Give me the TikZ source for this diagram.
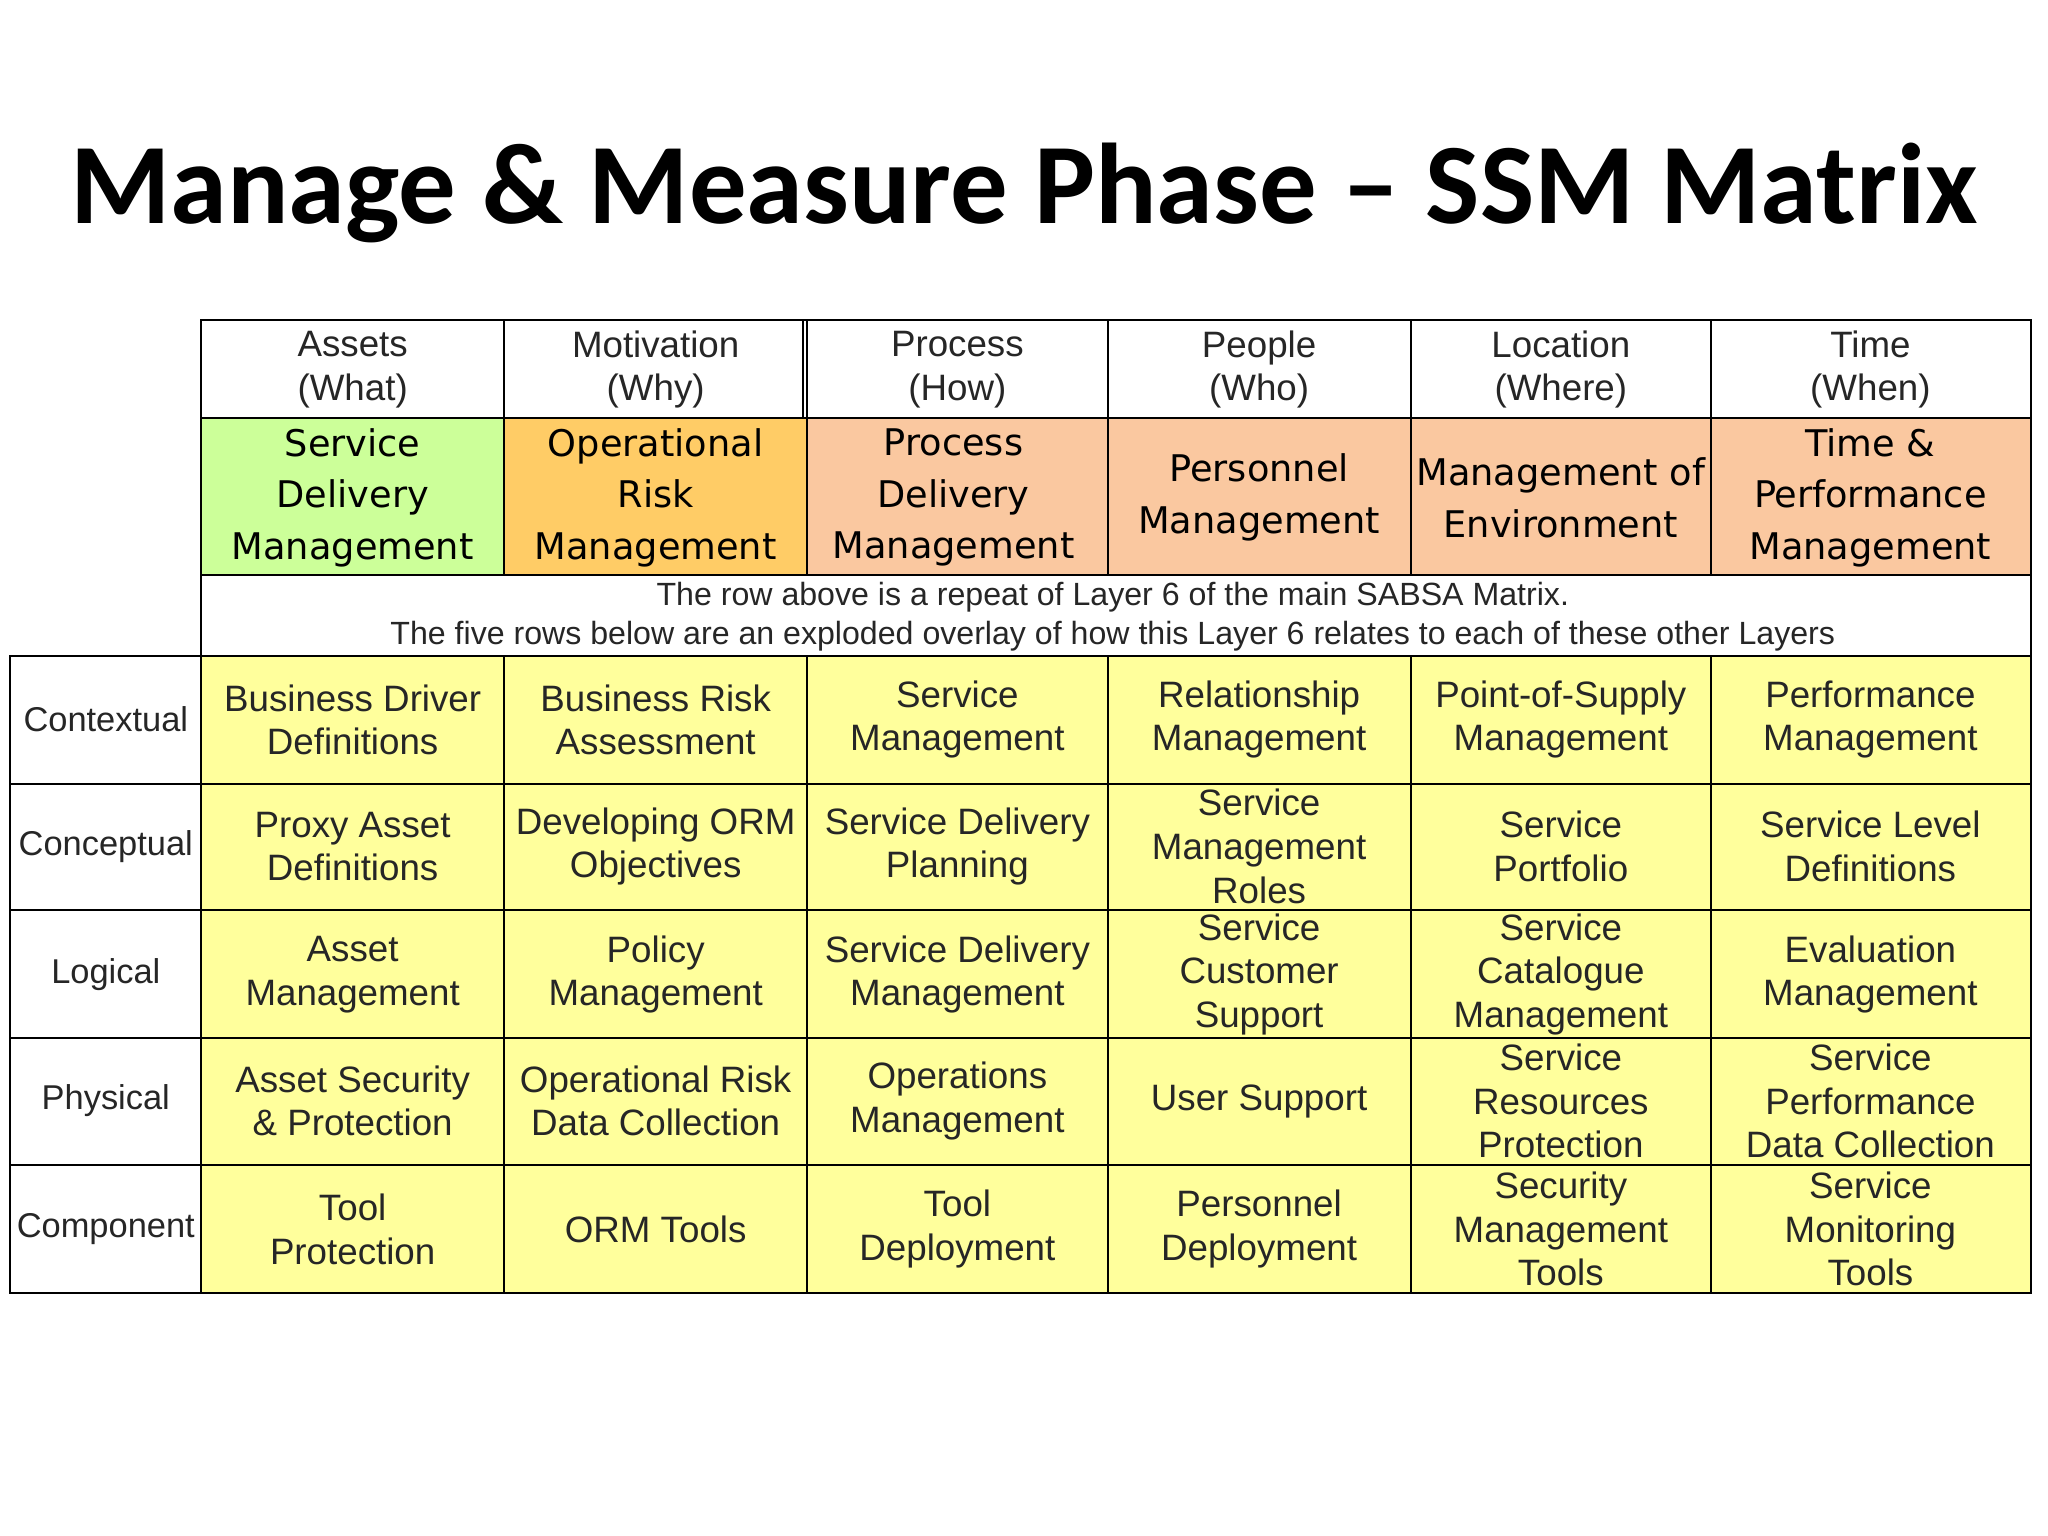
\documentclass[tikz,border=0pt]{standalone}
\usepackage{fontspec}
\setmainfont{Liberation Sans}
\newfontfamily\titlefont{Carlito}
\newfontfamily\hdfont{DejaVu Sans}
\definecolor{cyel}{HTML}{FFFF9C}
\definecolor{cgreen}{HTML}{CCFF99}
\definecolor{corange}{HTML}{FFCC66}
\definecolor{cpeach}{HTML}{FAC8A0}
\begin{document}
\begin{tikzpicture}[x=0.02cm,y=-0.02cm,
  txt/.style={align=center,font=\fontsize{16}{19}\selectfont,text=black!85},
  hd/.style={align=center,font=\hdfont\fontsize{16}{22.5}\selectfont},
  grid/.style={draw=black,line width=0.9pt}]
\useasboundingbox (0,0) rectangle (1568,1176);
\fill[white] (0,0) rectangle (1568,1176);
\node[font=\titlefont\bfseries\fontsize{50}{60}\selectfont] (title) at (784,148) {Manage \& Measure Phase – SSM Matrix};
% fills
\fill[cyel] (154,502) rectangle (1555,990);
\fill[cgreen] (154,320) rectangle (386,440);
\fill[corange] (386,320) rectangle (618,440);
\fill[cpeach] (618,320) rectangle (1555,440);
% grid
\draw[grid] (154,245) rectangle (1555,990);
\draw[grid] (8,502) rectangle (154,990);
\foreach \y in {320,440,502,600,697,795,892} \draw[grid] (154,\y) -- (1555,\y);
\foreach \y in {600,697,795,892} \draw[grid] (8,\y) -- (154,\y);
\foreach \x in {386,618,848,1080,1310} {\draw[grid] (\x,245) -- (\x,440); \draw[grid] (\x,502) -- (\x,990);}
\draw[grid] (615,245) -- (615,320);
% header row
\foreach \n/\x/\t in {h1/270/{Assets\\(What)},h2/502/{Motivation\\(Why)},h3/733/{Process\\(How)},h4/964/{People\\(Who)},h5/1195/{Location\\(Where)},h6/1432/{Time\\(When)}}
  \node[txt] (\n) at (\x,283) {\t};
\foreach \n/\x/\t in {g1/270/{Service\\Delivery\\Management},g2/502/{Operational\\Risk\\Management},g3/730/{Process\\Delivery\\Management},g4/964/{Personnel\\Management},g5/1195/{Management of\\Environment},g6/1432/{Time \&\\Performance\\Management}}
  \node[hd] (\n) at (\x,381) {\t};
\node[align=center,font=\fontsize{14}{17}\selectfont,text=black!85] (note) at (852,472) {The row above is a repeat of Layer 6 of the main SABSA Matrix.\\The five rows below are an exploded overlay of how this Layer 6 relates to each of these other Layers};
% row labels
\foreach \n/\y/\t in {r1/551/Contextual,r2/648/Conceptual,r3/746/Logical,r4/843/Physical,r5/941/Component}
  \node[txt,font=\fontsize{15}{18}\selectfont] (\n) at (81,\y) {\t};
% cells
\foreach \y/\r [count=\i] in {
551/{{Business Driver\\Definitions},{Business Risk\\Assessment},{Service\\Management},{Relationship\\Management},{Point-of-Supply\\Management},{Performance\\Management}},
648/{{Proxy Asset\\Definitions},{Developing ORM\\Objectives},{Service Delivery\\Planning},{Service\\Management\\Roles},{Service\\Portfolio},{Service Level\\Definitions}},
746/{{Asset\\Management},{Policy\\Management},{Service Delivery\\Management},{Service\\Customer\\Support},{Service\\Catalogue\\Management},{Evaluation\\Management}},
843/{{Asset Security\\\& Protection},{Operational Risk\\Data Collection},{Operations\\Management},{User Support},{Service\\Resources\\Protection},{Service\\Performance\\Data Collection}},
941/{{Tool\\Protection},{ORM Tools},{Tool\\Deployment},{Personnel\\Deployment},{Security\\Management\\Tools},{Service\\Monitoring\\Tools}}}
{
  \foreach \t [count=\j] in \r {
    \pgfmathsetmacro{\xx}{{0,270,502,733,964,1195,1432}[\j]}
    \node[txt] (c\i\j) at (\xx,\y) {\t};
  }
}
\end{tikzpicture}
\end{document}
